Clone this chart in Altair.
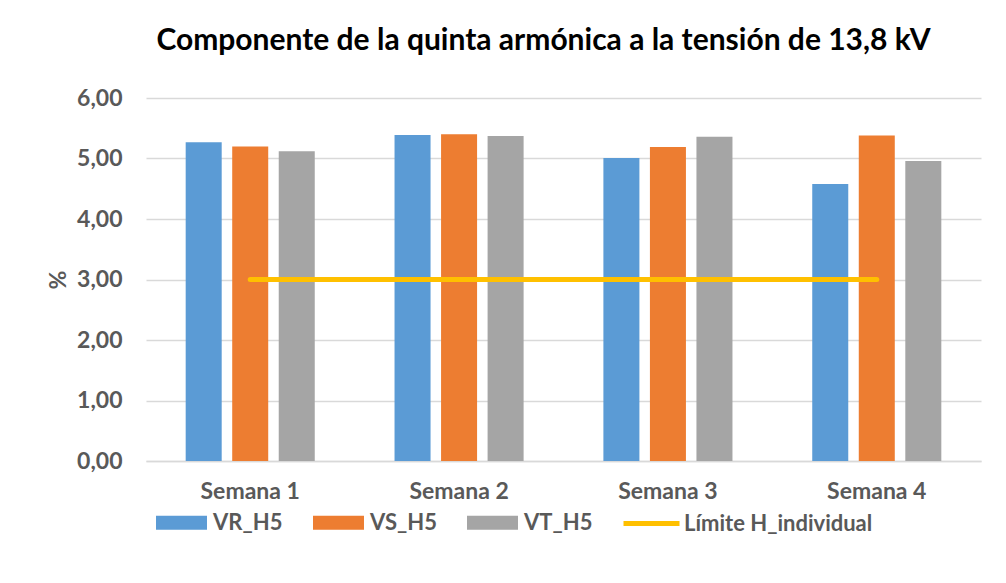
import altair as alt
import pandas as pd

# ---- data ----
weeks = ["Semana 1", "Semana 2", "Semana 3", "Semana 4"]
series = ["VR_H5", "VS_H5", "VT_H5"]
vr_h5 = [5.27, 5.39, 5.01, 4.58]
vs_h5 = [5.20, 5.40, 5.19, 5.38]
vt_h5 = [5.12, 5.37, 5.36, 4.96]
limit_name = "Límite H_individual"
limit_values = [3.0, 3.0, 3.0, 3.0]
y_ticks = [0, 1, 2, 3, 4, 5, 6]

bar_colors = ["#5B9BD5", "#ED7D31", "#A5A5A5"]
limit_color = "#FFC000"

rows = []
for i, w in enumerate(weeks):
    for s, vals in zip(series, [vr_h5, vs_h5, vt_h5]):
        rows.append({"semana": w, "serie": s, "valor": vals[i]})
bars_df = pd.DataFrame(rows)
line_df = pd.DataFrame({"semana": weeks, "serie": [limit_name] * len(weeks), "valor": limit_values})

FONT = "Lato"
GREY = "#595959"
FS = 23

x_enc = alt.X(
    "semana:N",
    sort=weeks,
    scale=alt.Scale(paddingInner=0.382, paddingOuter=0.19),
    axis=alt.Axis(
        title=None, labelAngle=0, ticks=False, labelPadding=19,
        labelFont=FONT, labelFontSize=FS, labelFontWeight="bold", labelColor=GREY,
        domainColor="#D9D9D9", domainWidth=1.5, grid=False,
    ),
)
y_enc = alt.Y(
    "valor:Q",
    scale=alt.Scale(domain=[0, 6], nice=False),
    axis=alt.Axis(
        title="%", values=y_ticks, ticks=False, domain=False, labelPadding=24,
        labelExpr="replace(format(datum.value, '.2f'), '.', ',')",
        labelFont=FONT, labelFontSize=FS, labelFontWeight="bold", labelColor=GREY,
        titleFont=FONT, titleFontSize=FS, titleFontWeight="bold", titleColor=GREY,
        titlePadding=6, gridColor="#D9D9D9", gridWidth=1.5,
    ),
)

bars = alt.Chart(bars_df).mark_bar().encode(
    x=x_enc,
    y=y_enc,
    xOffset=alt.XOffset("serie:N", sort=series, scale=alt.Scale(paddingInner=0.226, paddingOuter=0)),
    color=alt.Color(
        "serie:N",
        sort=series,
        scale=alt.Scale(domain=series, range=bar_colors),
        legend=alt.Legend(
            title=None, orient="none", direction="horizontal", legendX=10, legendY=399,
            symbolType="M-1,-0.27H1V0.27H-1Z", symbolSize=2600, symbolStrokeWidth=0,
            symbolOpacity=1, labelOffset=6, columnPadding=30, padding=0,
            labelFont=FONT, labelFontSize=22, labelFontWeight="bold", labelColor=GREY,
        ),
    ),
)

line = alt.Chart(line_df).mark_line(strokeWidth=5, strokeCap="round").encode(
    x=alt.X("semana:N", sort=weeks),
    y=alt.Y("valor:Q"),
    color=alt.Color(
        "serie:N",
        scale=alt.Scale(domain=[limit_name], range=[limit_color]),
        legend=alt.Legend(
            title=None, orient="none", direction="horizontal", legendX=475, legendY=395,
            symbolType="stroke", symbolSize=3136, symbolStrokeWidth=5, padding=0,
            labelOffset=2, labelLimit=400,
            labelFont=FONT, labelFontSize=22, labelFontWeight="bold", labelColor=GREY,
        ),
    ),
)

chart = (
    alt.layer(bars, line)
    .resolve_scale(color="independent")
    .properties(
        width=835,
        height=363,
        title=alt.TitleParams(
            text="Componente de la quinta armónica a la tensión de 13,8 kV",
            font=FONT, fontSize=30, fontWeight="bold", color="#000000",
            anchor="middle", dx=-20, offset=31,
        ),
        padding={"left": 39, "top": 18, "right": 10, "bottom": 5},
        background="white",
    )
    .configure_view(strokeWidth=0)
)

chart.save("out.html", embed_options={"renderer": "svg", "actions": False})
